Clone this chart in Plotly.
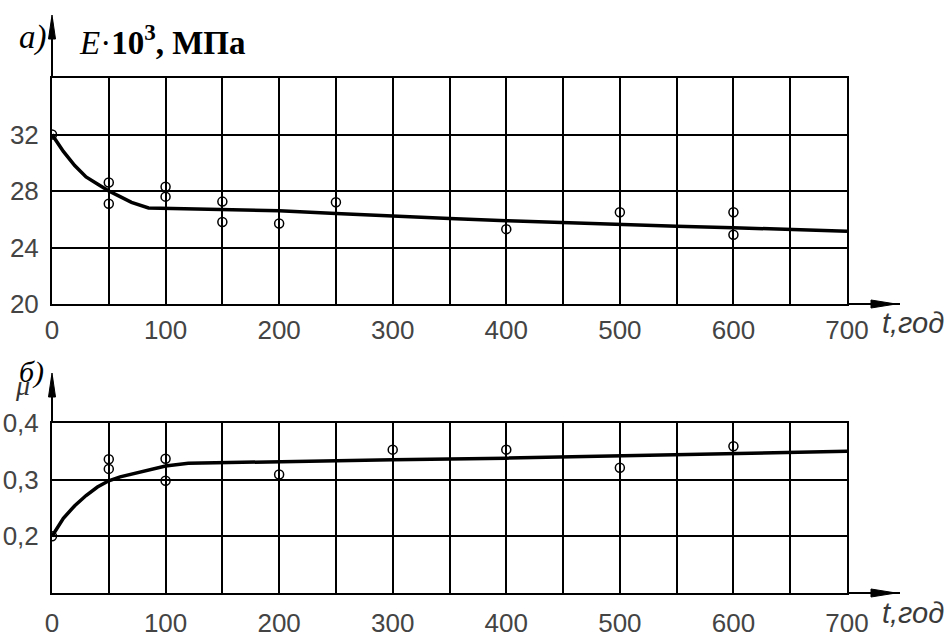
import plotly.graph_objects as go

# ---- data ----
t_ticks = [0, 100, 200, 300, 400, 500, 600, 700]
t_tick_labels = ["0", "100", "200", "300", "400", "500", "600", "700"]

# a) modulus E*10^3, MPa
e_pts_t = [0, 50, 50, 100, 100, 150, 150, 200, 250, 400, 500, 600, 600]
e_pts_v = [32.0, 28.6, 27.1, 28.3, 27.6, 27.25, 25.8, 25.7, 27.2, 25.3, 26.5, 26.5, 24.9]
e_fit_t = [0, 10, 20, 30, 40, 50, 60, 70, 85, 100, 150, 200, 250, 300, 350, 400, 450, 500, 550, 600, 650, 700]
e_fit_v = [32.0, 30.8, 29.8, 29.0, 28.5, 28.0, 27.6, 27.2, 26.8, 26.78, 26.7, 26.6, 26.4, 26.2, 26.05, 25.9, 25.75, 25.6, 25.5, 25.4, 25.3, 25.15]
e_ticks = [20, 24, 28, 32, 36]
e_tick_labels = ["20", "24", "28", "32", ""]

# b) Poisson ratio mu
m_pts_t = [0, 50, 50, 100, 100, 200, 300, 400, 500, 600]
m_pts_v = [0.200, 0.336, 0.319, 0.337, 0.298, 0.309, 0.353, 0.353, 0.321, 0.359]
m_fit_t = [0, 10, 20, 30, 40, 50, 60, 75, 100, 120, 200, 300, 400, 500, 600, 700]
m_fit_v = [0.200, 0.232, 0.254, 0.272, 0.287, 0.298, 0.305, 0.312, 0.324, 0.329, 0.331, 0.335, 0.338, 0.342, 0.346, 0.350]
m_ticks = [0.1, 0.2, 0.3, 0.4]
m_tick_labels = ["", "0,2", "0,3", "0,4"]

W, H = 949, 639
def px(x):
    return x / W
def py(y):
    return 1 - y / H

fig = go.Figure()

line_style = dict(color="black", width=3.5)
mk = dict(symbol="circle-open", size=9, color="black", line=dict(width=1.5, color="black"))

fig.add_trace(go.Scatter(x=e_fit_t, y=e_fit_v, mode="lines", line=line_style,
                         xaxis="x", yaxis="y", showlegend=False, hoverinfo="skip"))
fig.add_trace(go.Scatter(x=e_pts_t, y=e_pts_v, mode="markers", marker=mk,
                         xaxis="x", yaxis="y", showlegend=False))
fig.add_trace(go.Scatter(x=m_fit_t, y=m_fit_v, mode="lines", line=line_style,
                         xaxis="x2", yaxis="y2", showlegend=False, hoverinfo="skip"))
fig.add_trace(go.Scatter(x=m_pts_t, y=m_pts_v, mode="markers", marker=mk,
                         xaxis="x2", yaxis="y2", showlegend=False))

tick_font = dict(family="Liberation Sans", size=26, color="#444444")
xdom = [px(52), px(847)]

common_x = dict(range=[0, 700], tickvals=t_ticks, ticktext=t_tick_labels,
                showgrid=True, gridcolor="black", gridwidth=1.5,
                minor=dict(dtick=50, showgrid=True, gridcolor="black", gridwidth=1.5),
                showline=True, linecolor="black", linewidth=2, mirror=True,
                zeroline=False, ticks="", tickfont=tick_font, domain=xdom,
                fixedrange=True, automargin=False)
common_y = dict(showgrid=True, gridcolor="black", gridwidth=1.5,
                showline=True, linecolor="black", linewidth=2, mirror=True,
                zeroline=False, ticks="", tickfont=tick_font, fixedrange=True,
                ticklabelstandoff=6, automargin=False)

fig.update_layout(
    width=W, height=H,
    margin=dict(l=0, r=0, t=0, b=0, autoexpand=False),
    paper_bgcolor="white", plot_bgcolor="white",
    xaxis=dict(common_x, anchor="y", ticklabelstandoff=2),
    yaxis=dict(common_y, range=[20, 36], tickvals=e_ticks, ticktext=e_tick_labels,
               domain=[py(304), py(78)], anchor="x"),
    xaxis2=dict(common_x, anchor="y2", ticklabelstandoff=6),
    yaxis2=dict(common_y, range=[0.1, 0.4], tickvals=m_ticks, ticktext=m_tick_labels,
                domain=[py(593), py(423)], anchor="x2"),
)

# axis extensions with arrowheads (decoration)
shapes = []
for (ybase, ytop, ytip) in [(304, 78, 15), (593, 423, 373)]:
    shapes.append(dict(type="line", xref="paper", yref="paper",
                       x0=px(52), x1=px(52), y0=py(ytop), y1=py(ytip + 4),
                       line=dict(color="black", width=2)))
    shapes.append(dict(type="path", xref="paper", yref="paper",
                       path=f"M {px(52)} {py(ytip)} L {px(55.5)} {py(ytip + 24)} L {px(48.5)} {py(ytip + 24)} Z",
                       fillcolor="black", line=dict(color="black", width=1)))
    shapes.append(dict(type="line", xref="paper", yref="paper",
                       x0=px(847), x1=px(900), y0=py(ybase), y1=py(ybase),
                       line=dict(color="black", width=2)))
    shapes.append(dict(type="path", xref="paper", yref="paper",
                       path=f"M {px(896)} {py(ybase)} L {px(871)} {py(ybase - 4)} L {px(871)} {py(ybase + 4)} Z",
                       fillcolor="black", line=dict(color="black", width=1)))
fig.update_layout(shapes=shapes)

serif = "Liberation Serif"
sans_col = "#3a3a3a"
ann = [
    dict(x=px(33), y=py(38), text="<i>a)</i>", font=dict(family=serif, size=33, color="black")),
    dict(x=px(77), y=py(40), text="<i>E</i>·<b>10<sup>3</sup>, МПа</b>", xanchor="left",
         font=dict(family=serif, size=33, color="black")),
    dict(x=px(32), y=py(372), text="<i>б)</i>", font=dict(family=serif, size=30, color="black")),
    dict(x=px(22), y=py(385), text="<i>μ</i>", font=dict(family=serif, size=28, color="#333")),
    dict(x=px(913), y=py(323), text="<i>t,год</i>", font=dict(family="Liberation Sans", size=29, color=sans_col)),
    dict(x=px(913), y=py(613), text="<i>t,год</i>", font=dict(family="Liberation Sans", size=29, color=sans_col)),
]
for a in ann:
    a.update(xref="paper", yref="paper", showarrow=False)
    a.setdefault("xanchor", "center")
    a["yanchor"] = "middle"
fig.update_layout(annotations=ann)

fig.write_html("out.html", config={"displayModeBar": False},
               post_script="document.body.style.margin='0';document.body.style.overflow='hidden';")
